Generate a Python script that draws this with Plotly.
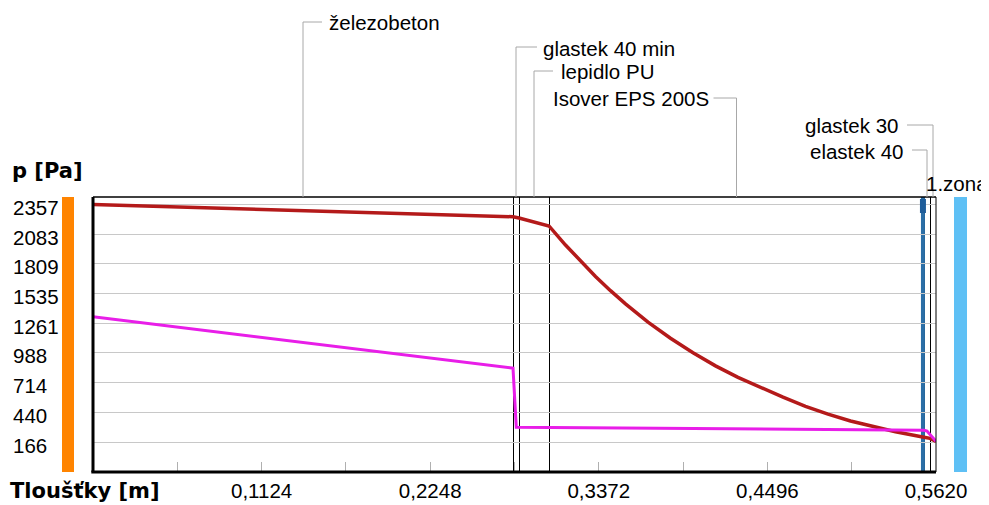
import plotly.graph_objects as go

# ---------------- data ----------------
layer_names = ["železobeton", "glastek 40 min", "lepidlo PU", "Isover EPS 200S", "glastek 30", "elastek 40"]
layer_thickness = [0.280, 0.004, 0.020, 0.250, 0.004, 0.004]

# saturated water vapour pressure (red)
x_sat = [0.0, 0.280, 0.284, 0.304, 0.315, 0.325, 0.335, 0.345, 0.355, 0.370, 0.385,
         0.400, 0.415, 0.430, 0.445, 0.460, 0.475, 0.490, 0.505, 0.520, 0.535, 0.554, 0.558, 0.562]
p_sat = [2357, 2245, 2233, 2160, 1984, 1834, 1694, 1563, 1441, 1273, 1124,
         990, 869, 763, 668, 580, 496, 424, 361, 307, 261, 211, 200, 173]

# partial water vapour pressure (magenta)
x_par = [0.0, 0.280, 0.2822, 0.304, 0.554, 0.556, 0.562]
p_par = [1322, 848, 303, 301, 275, 268, 173]

y_tick_vals = [2357, 2083, 1809, 1535, 1261, 988, 714, 440, 166]
y_tick_text = ["2357", "2083", "1809", "1535", "1261", "988", "714", "440", "166"]
x_tick_vals = [0.0562, 0.1124, 0.1686, 0.2248, 0.2810, 0.3372, 0.3934, 0.4496, 0.5058, 0.5620]
x_tick_text = ["", "0,1124", "", "0,2248", "", "0,3372", "", "0,4496", "", "0,5620"]

zone_x = 0.5533
zone_label = "1.zona"
y_title = "p [Pa]"
x_title = "Tloušťky [m]"

# ---------------- styles / geometry (page pixels) ----------------
PAGE_W, PAGE_H = 989, 505
BODY = 8                      # default html body margin
L, R, T, B = 93, 936, 197, 472
FONT = "Liberation Sans"
FS = 20.5
BFONT = "DejaVu Sans"
BFS = 21

def px_x(px):
    return (px - L) / (R - L)

def px_y(py):
    return (B - py) / (B - T)

bounds = []
acc = 0.0
for t in layer_thickness:
    bounds.append((acc, acc + t))
    acc += t
centers = [(a + b) / 2 for a, b in bounds]

fig = go.Figure()
fig.add_trace(go.Scatter(x=x_sat, y=p_sat, mode="lines",
                         line=dict(color="#b41a1a", width=3.5), hoverinfo="skip"))
fig.add_trace(go.Scatter(x=x_par, y=p_par, mode="lines",
                         line=dict(color="#e81ee8", width=3), hoverinfo="skip"))

shapes = []
# layer boundaries (half-pixel offset for crisp 1px lines)
for a, b in bounds:
    shapes.append(dict(type="line", xref="x", yref="paper", xsizemode="pixel", xanchor=b,
                       x0=0.5, x1=0.5, y0=0, y1=1,
                       line=dict(color="black", width=1), layer="between"))
# condensation zone marker
shapes.append(dict(type="line", xref="x", yref="paper", x0=zone_x, x1=zone_x, y0=0, y1=1,
                   line=dict(color="#2b6ea6", width=4), layer="between"))
shapes.append(dict(type="rect", xref="x", yref="paper", xsizemode="pixel", xanchor=zone_x,
                   x0=-3, x1=3, y0=px_y(213), y1=px_y(199),
                   fillcolor="#1f5d99", line=dict(width=0), layer="above"))
# frame
shapes.append(dict(type="line", xref="paper", yref="paper", x0=0, x1=1, y0=1, y1=1,
                   line=dict(color="black", width=1.5), layer="above"))
shapes.append(dict(type="line", xref="paper", yref="paper", x0=1, x1=1, y0=0, y1=1,
                   line=dict(color="black", width=1), layer="above"))
shapes.append(dict(type="line", xref="paper", yref="paper", x0=0, x1=0, y0=0, y1=1,
                   line=dict(color="black", width=3), layer="above"))
shapes.append(dict(type="line", xref="paper", yref="paper", x0=-0.002, x1=1, y0=0, y1=0,
                   line=dict(color="black", width=3), layer="above"))
# side bars
shapes.append(dict(type="rect", xref="paper", yref="paper", x0=px_x(62), x1=px_x(74),
                   y0=0, y1=1, fillcolor="#ff8400", line=dict(width=0)))
shapes.append(dict(type="rect", xref="paper", yref="paper", x0=px_x(954), x1=px_x(967),
                   y0=0, y1=1, fillcolor="#5ec0f5", line=dict(width=0)))

# layer name labels with leader lines
label_py = [22, 47, 71, 98, 125, 150]
label_side = ["left", "left", "left", "right", "right", "right"]
label_target = [0, 1, 2, 3, 5, 4]
label_gap = [(0, 19, 24), (0, 21, 25), (0, 19, 25), (-23, 0, -26), (-26, 0, -33), (-15, 0, -22)]

annotations = []
LEAD = "#a8a8a8"
for name, py, side, ti, (h0, h1, tx) in zip(layer_names, label_py, label_side, label_target, label_gap):
    cx = centers[ti]
    shapes.append(dict(type="line", xref="x", yref="paper", x0=cx, x1=cx,
                       y0=1, y1=px_y(py), line=dict(color=LEAD, width=1)))
    shapes.append(dict(type="line", xref="x", yref="paper", xsizemode="pixel", xanchor=cx,
                       x0=h0, x1=h1, y0=px_y(py), y1=px_y(py), line=dict(color=LEAD, width=1)))
    annotations.append(dict(text=name, xref="x", x=cx, xshift=tx, yref="paper", y=px_y(py + 1),
                            xanchor="left" if side == "left" else "right", yanchor="middle",
                            showarrow=False, font=dict(family=FONT, size=FS, color="black")))

# y tick labels (left aligned as in the original)
for v, t in zip(y_tick_vals, y_tick_text):
    annotations.append(dict(text=t, xref="paper", x=px_x(11), yref="y", y=v, yshift=-3,
                            xanchor="left", yanchor="middle", showarrow=False,
                            font=dict(family=FONT, size=FS, color="black")))

annotations.append(dict(text="<b>" + y_title + "</b>", xref="paper", x=px_x(10), yref="paper",
                        y=px_y(171), xanchor="left", yanchor="middle", showarrow=False,
                        font=dict(family=BFONT, size=BFS, color="black")))
annotations.append(dict(text="<b>" + x_title + "</b>", xref="paper", x=px_x(8), yref="paper",
                        y=px_y(491), xanchor="left", yanchor="middle", showarrow=False,
                        font=dict(family=BFONT, size=BFS, color="black")))
annotations.append(dict(text=zone_label, xref="paper", x=px_x(924), yref="paper",
                        y=px_y(184), xanchor="left", yanchor="middle", showarrow=False,
                        font=dict(family=FONT, size=FS, color="black")))

fig.update_layout(
    width=PAGE_W - BODY, height=PAGE_H - BODY,
    margin=dict(l=L - BODY, r=PAGE_W - R, t=T - BODY, b=PAGE_H - B, pad=0, autoexpand=False),
    paper_bgcolor="white", plot_bgcolor="white",
    showlegend=False,
    shapes=shapes, annotations=annotations,
    xaxis=dict(range=[0, 0.562], tickvals=x_tick_vals, ticktext=x_tick_text,
               ticks="inside", ticklen=10, tickcolor="#b0b0b0", tickwidth=1,
               showgrid=False, zeroline=False, showline=False, ticklabelstandoff=4,
               automargin=False,
               tickfont=dict(family=FONT, size=FS, color="black"), fixedrange=True),
    yaxis=dict(range=[-110, 2427], tickvals=y_tick_vals, showticklabels=False,
               ticks="", showgrid=True, gridcolor="#c8c8c8", gridwidth=1, automargin=False,
               zeroline=False, showline=False, fixedrange=True),
)

fig.write_html("out.html")
